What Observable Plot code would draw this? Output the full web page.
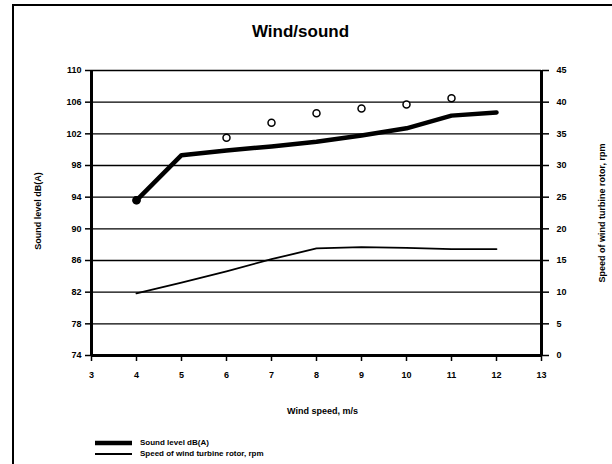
<!DOCTYPE html>
<html>
<head>
<meta charset="utf-8">
<script src="https://cdn.jsdelivr.net/npm/d3@7"></script>
<script src="https://cdn.jsdelivr.net/npm/@observablehq/plot@0.6"></script>
<style>
  body { margin: 0; background: white; font-family: "Liberation Sans", Arial, sans-serif; }
  #wrap { position: relative; width: 612px; height: 464px; overflow: hidden; }
  #frame { position: absolute; left: 12px; top: 4px; width: 640px; height: 500px;
           border-left: 2px solid black; border-top: 2px solid black; }
  #legend { position: absolute; left: 95px; top: 437px; font-size: 8px; line-height: 11px; color: black; }
  #legend div { display: flex; align-items: center; }
  #legend svg { margin-right: 8px; }
  #chart { position: absolute; left: 0; top: 0; }
</style>
</head>
<body>
<div id="wrap">
  <div id="chart"></div>
  <div id="frame"></div>
  <div id="legend"></div>
</div>
<script>
// ---- data ----
const windSpeed = [4, 5, 6, 7, 8, 9, 10, 11, 12];
const soundLevel = [93.6, 99.3, 99.9, 100.4, 101.0, 101.8, 102.7, 104.3, 104.7];
const rotorSpeed = [9.8, 11.5, 13.3, 15.2, 16.9, 17.1, 17.0, 16.8, 16.8];
const measuredWind = [4, 6, 7, 8, 9, 10, 11];
const measuredSound = [93.6, 101.5, 103.4, 104.6, 105.2, 105.7, 106.5];
const leftTicks = [74, 78, 82, 86, 90, 94, 98, 102, 106, 110];
const rightTicks = [0, 5, 10, 15, 20, 25, 30, 35, 40, 45];
const xTicks = [3, 4, 5, 6, 7, 8, 9, 10, 11, 12, 13];
const seriesNames = ["Sound level dB(A)", "Speed of wind turbine rotor, rpm"];
const titleText = "Wind/sound";
const xTitle = "Wind speed, m/s";
const yLeftTitle = "Sound level dB(A)";
const yRightTitle = "Speed of wind turbine rotor, rpm";

// map right-axis values (0..45) into left domain (74..110)
const yMin = 74, yMax = 110, rMin = 0, rMax = 45;
const toLeft = v => yMin + (v - rMin) * (yMax - yMin) / (rMax - rMin);
const fromLeft = y => rMin + (y - yMin) * (rMax - rMin) / (yMax - yMin);

const soundData = windSpeed.map((w, i) => ({w, v: soundLevel[i]}));
const rotorData = windSpeed.map((w, i) => ({w, v: toLeft(rotorSpeed[i])}));
const measData = measuredWind.map((w, i) => ({w, v: measuredSound[i]}));

const chart = Plot.plot({
  width: 612,
  height: 464,
  marginLeft: 91,
  marginRight: 71,
  marginTop: 70,
  marginBottom: 109,
  style: { fontFamily: "Liberation Sans, Arial, sans-serif", fontSize: "9px", background: "white", color: "black" },
  x: { domain: [3, 13] },
  y: { domain: [yMin, yMax] },
  marks: [
    Plot.gridY(leftTicks, { stroke: "black", strokeOpacity: 1, strokeWidth: 1.3 }),
    Plot.axisY(leftTicks, { anchor: "left", tickSize: 6, tickPadding: 4, label: null, stroke: "black", strokeWidth: 1.5, fontWeight: "bold" }),
    Plot.axisY(rightTicks.map(toLeft), { anchor: "right", tickSize: 7, tickPadding: 8, label: null, stroke: "black", strokeWidth: 1.5, tickFormat: d => String(Math.round(fromLeft(d))), fontWeight: "bold" }),
    Plot.axisX(xTicks, { anchor: "bottom", tickSize: 6, tickPadding: 10, label: null, stroke: "black", strokeWidth: 1.5, fontWeight: "bold" }),
    Plot.ruleX([3, 13], { stroke: "black", strokeWidth: 3 }),
    Plot.ruleY([yMin], { stroke: "black", strokeWidth: 3 }),
    Plot.line(rotorData, { x: "w", y: "v", stroke: "black", strokeWidth: 1.8 }),
    Plot.line(soundData, { x: "w", y: "v", stroke: "black", strokeWidth: 4.5 }),
    Plot.dot(measData, { x: "w", y: "v", r: 3.5, stroke: "black", strokeWidth: 1.5, fill: "white" }),
    Plot.dot(soundData.slice(0, 1), { x: "w", y: "v", r: 4, fill: "black" }),
    Plot.text([titleText], { frameAnchor: "top", dx: -16, dy: -46, fontSize: 17, fontWeight: "bold", text: d => d }),
    Plot.text([xTitle], { frameAnchor: "bottom", dx: 6, dy: 58, fontSize: 9, fontWeight: "bold", text: d => d }),
    Plot.text([yLeftTitle], { frameAnchor: "left", textAnchor: "middle", dx: -53, dy: -2, rotate: -90, fontSize: 9, fontWeight: "bold", text: d => d }),
    Plot.text([yRightTitle], { frameAnchor: "right", textAnchor: "middle", dx: 61, dy: 0, rotate: -90, fontSize: 9, fontWeight: "bold", text: d => d })
  ]
});
document.getElementById("chart").appendChild(chart);

// legend
const legend = d3.select("#legend");
const widths = [4.5, 1.8];
seriesNames.forEach((name, i) => {
  const row = legend.append("div");
  const s = row.append("svg").attr("width", 37).attr("height", 8);
  s.append("line").attr("x1", 0).attr("x2", 37).attr("y1", 4).attr("y2", 4)
    .attr("stroke", "black").attr("stroke-width", widths[i]);
  row.append("span").style("font-weight", "bold").text(name);
});
</script>
</body>
</html>
